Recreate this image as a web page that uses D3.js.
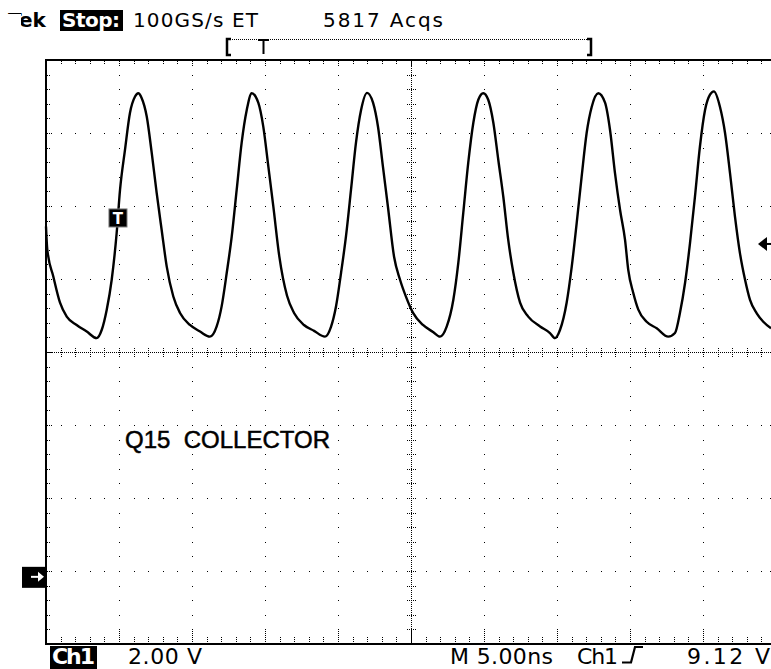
<!DOCTYPE html>
<html>
<head>
<meta charset="utf-8">
<script src="https://cdn.jsdelivr.net/npm/d3@7/dist/d3.min.js"></script>
<style>
    body { margin: 0; background: #fff; }
    svg { display: block; }
    text { font-family: "DejaVu Sans", sans-serif; fill: #000; }
</style>
</head>
<body>
<div id="scope"></div>
<script>
// Ch1 trace: time from the left graticule edge (ns) and volts
var traceNs = [0, 0.09, 0.50, 0.96, 1.42, 2.10, 2.79, 3.47, 3.82, 4.16, 4.50, 4.84, 5.07, 5.41, 5.75, 6.10,
    6.32, 6.55, 6.90, 7.24, 7.58, 7.92, 8.27, 8.72, 9.18, 9.86, 10.55, 11.23, 11.69, 12.03, 12.38, 12.72,
    13.06, 13.40, 13.75, 14.09, 14.54, 14.88, 15.23, 15.57, 15.98, 16.51, 16.99, 17.67, 18.36, 19.11, 19.52,
    19.86, 20.21, 20.55, 20.89, 21.23, 21.58, 21.99, 22.40, 22.74, 23.08, 23.42, 23.84, 24.25, 24.66, 25.14,
    25.82, 26.51, 26.99, 27.45, 27.90, 28.24, 28.58, 28.92, 29.27, 29.61, 29.95, 30.29, 30.64, 30.98, 31.32,
    31.66, 32.01, 32.47, 33.03, 33.84, 34.52, 34.86, 35.21, 35.66, 36.01, 36.35, 36.69, 37.03, 37.38, 37.83,
    38.29, 38.63, 38.97, 39.32, 39.66, 39.88, 40.23, 40.57, 41.14, 41.83, 42.62, 43.08, 43.42, 43.77, 44.11,
    44.45, 44.79, 45.14, 45.48, 45.75, 46.16, 46.51, 46.85, 47.19, 47.53, 47.88, 48.22, 48.68, 49.13, 49.66];
var traceV = [9.60, 8.96, 8.23, 7.51, 7.13, 6.90, 6.72, 6.54, 6.77, 7.32, 8.14, 9.42, 10.60, 11.70, 12.71, 13.16,
    13.25, 13.12, 12.61, 11.62, 10.52, 9.51, 8.50, 7.68, 7.23, 6.90, 6.72, 6.58, 6.86, 7.41, 8.33, 9.32,
    10.60, 11.89, 12.79, 13.25, 12.99, 12.34, 11.24, 10.15, 8.78, 7.70, 7.23, 6.90, 6.74, 6.58, 6.85,
    7.40, 8.33, 9.34, 10.60, 11.89, 12.79, 13.26, 12.99, 12.33, 11.23, 10.14, 8.77, 8.14, 7.67, 7.23,
    6.90, 6.71, 6.58, 6.86, 7.59, 8.60, 9.97, 11.34, 12.44, 13.07, 13.25, 13.07, 12.44, 11.42, 10.42,
    9.23, 8.33, 7.51, 7.13, 6.86, 6.68, 6.54, 6.77, 7.51, 8.50, 9.70, 10.97, 12.16, 12.88, 13.25,
    12.99, 12.25, 11.07, 10.05, 9.23, 8.41, 7.77, 7.32, 6.99, 6.81, 6.58, 6.68, 7.23, 8.05, 9.14,
    10.42, 11.79, 12.79, 13.21, 13.30, 12.88, 12.16, 11.06, 9.87, 8.87, 8.14, 7.59, 7.22, 6.99, 6.81];

var voltsPerDiv = 2.0;
var nsPerDiv = 5.0;
var bottomVolts = -1.84;      // Ch1 ground sits just under one division above the bottom
var triggerVolts = 9.12;
var triggerNs = 4.93;
var sampleRate = "100GS/s ET";
var acqCount = 5817;
var channelName = "Ch1";
var traceLabel = "Q15  COLLECTOR";

var Scope = function(opts) {
    this.element = opts.element;
    this.width = 771;
    this.height = 669;

    this.draw();
};

Scope.prototype.draw = function() {
    this.element.innerHTML = '';
    this.svg = d3.select(this.element).append("svg")
        .attr("width", this.width)
        .attr("height", this.height);

    this.setScales();
    this.drawGraticule();
    this.drawTrace();
    this.drawMarkers();
    this.drawReadouts();
};

Scope.prototype.setScales = function() {
    // 10 x 8 divisions, the right edge falls just off the screenshot
    this.gx = d3.scaleLinear().domain([0, 10]).range([46, 776]);
    this.gy = d3.scaleLinear().domain([0, 8]).range([644, 60]);

    this.x = d3.scaleLinear()
        .domain([0, 10 * nsPerDiv])
        .range(this.gx.range());
    this.y = d3.scaleLinear()
        .domain([bottomVolts, bottomVolts + 8 * voltsPerDiv])
        .range(this.gy.range());
};

Scope.prototype.drawGraticule = function() {
    var gx = this.gx, gy = this.gy;
    var g = this.svg.append("g").attr("class", "graticule");
    var px = function(v) { return Math.round(v) + 0.5; };

    var minorX = d3.range(1, 50).map(function(i) { return i / 5; });
    var minorY = d3.range(1, 40).map(function(i) { return i / 5; });

    // single dots along the major lines
    var dots = [];
    [1, 2, 3, 4, 6, 7, 8, 9].forEach(function(i) {
        minorY.forEach(function(j) { dots.push([gx(i), gy(j)]); });
    });
    [1, 2, 3, 5, 6, 7].forEach(function(j) {
        minorX.forEach(function(i) { dots.push([gx(i), gy(j)]); });
    });
    g.selectAll("rect.dot")
        .data(dots)
        .enter().append("rect")
        .attr("class", "dot")
        .attr("x", function(d) { return Math.round(d[0]); })
        .attr("y", function(d) { return Math.round(d[1]); })
        .attr("width", 1)
        .attr("height", 1)
        .attr("fill", "#000");

    // centre cross, finely dotted with ticks every minor division
    g.append("line")
        .attr("x1", px(gx(5))).attr("x2", px(gx(5)))
        .attr("y1", gy(8)).attr("y2", gy(0))
        .attr("stroke", "#000").attr("stroke-dasharray", "1,1");
    g.append("line")
        .attr("x1", gx(0)).attr("x2", gx(10))
        .attr("y1", px(gy(4))).attr("y2", px(gy(4)))
        .attr("stroke", "#000").attr("stroke-dasharray", "1,1");

    g.selectAll("line.xtick")
        .data(minorX)
        .enter().append("line")
        .attr("class", "xtick")
        .attr("x1", function(d) { return px(gx(d)); })
        .attr("x2", function(d) { return px(gx(d)); })
        .attr("y1", gy(4) - 4).attr("y2", gy(4) + 5)
        .attr("stroke", "#000").attr("stroke-dasharray", "1,1");
    g.selectAll("line.ytick")
        .data(minorY)
        .enter().append("line")
        .attr("class", "ytick")
        .attr("y1", function(d) { return px(gy(d)); })
        .attr("y2", function(d) { return px(gy(d)); })
        .attr("x1", gx(5) - 4).attr("x2", gx(5) + 5)
        .attr("stroke", "#000").attr("stroke-dasharray", "1,1");

    // ticks pointing in from the frame
    var tickLen = function(d) { return Math.abs(d - Math.round(d)) < 0.01 ? 6 : 3; };
    g.selectAll("line.tb")
        .data(minorX)
        .enter().append("g")
        .each(function(d) {
            var s = d3.select(this);
            s.append("line")
                .attr("x1", px(gx(d))).attr("x2", px(gx(d)))
                .attr("y1", gy(8) + 1).attr("y2", gy(8) + 1 + tickLen(d))
                .attr("stroke", "#000").attr("stroke-dasharray", "1,1");
            s.append("line")
                .attr("x1", px(gx(d))).attr("x2", px(gx(d)))
                .attr("y1", gy(0) - 2).attr("y2", gy(0) - 2 - tickLen(d) * 2)
                .attr("stroke", "#000").attr("stroke-dasharray", "1,1");
        });
    g.selectAll("line.lr")
        .data(minorY)
        .enter().append("g")
        .each(function(d) {
            var s = d3.select(this);
            s.append("line")
                .attr("y1", px(gy(d))).attr("y2", px(gy(d)))
                .attr("x1", gx(0) + 1).attr("x2", gx(0) + 1 + tickLen(d))
                .attr("stroke", "#000").attr("stroke-dasharray", "1,1");
            s.append("line")
                .attr("y1", px(gy(d))).attr("y2", px(gy(d)))
                .attr("x1", gx(10) - 1).attr("x2", gx(10) - 1 - tickLen(d))
                .attr("stroke", "#000").attr("stroke-dasharray", "1,1");
        });

    g.append("rect")
        .attr("x", gx(0)).attr("y", gy(8))
        .attr("width", gx(10) - gx(0))
        .attr("height", gy(0) - gy(8))
        .attr("fill", "none")
        .attr("stroke", "#000")
        .attr("stroke-width", 2);
};

Scope.prototype.drawTrace = function() {
    var _this = this;
    var line = d3.line()
        .x(function(d) { return _this.x(d[0]); })
        .y(function(d) { return _this.y(d[1]); })
        .curve(d3.curveMonotoneX);

    this.svg.append("path")
        .datum(d3.zip(traceNs, traceV))
        .attr("class", "trace")
        .attr("d", line)
        .attr("fill", "none")
        .attr("stroke", "#000")
        .attr("stroke-width", 2.4)
        .attr("stroke-linejoin", "round");
};

Scope.prototype.drawMarkers = function() {
    var x = this.x, y = this.y;

    // ground reference on the left
    var gy0 = y(0);
    this.svg.append("rect")
        .attr("x", 22).attr("y", gy0 - 10)
        .attr("width", 24).attr("height", 21)
        .attr("fill", "#000");
    this.svg.append("line")
        .attr("x1", 31).attr("x2", 40)
        .attr("y1", gy0).attr("y2", gy0)
        .attr("stroke", "#fff").attr("stroke-width", 2);
    this.svg.append("path")
        .attr("d", "M44," + gy0 + "L38," + (gy0 - 5) + "L38," + (gy0 + 5) + "Z")
        .attr("fill", "#fff");

    // trigger level on the right
    var ty = y(triggerVolts);
    this.svg.append("path")
        .attr("d", "M758," + ty + "L767," + (ty - 7) + "L767," + (ty + 7) + "Z")
        .attr("fill", "#000");
    this.svg.append("line")
        .attr("x1", 766).attr("x2", 771)
        .attr("y1", ty).attr("y2", ty)
        .attr("stroke", "#000").attr("stroke-width", 2);

    // trigger point on the waveform
    var tx = x(triggerNs);
    this.svg.append("rect")
        .attr("x", tx - 9).attr("y", ty - 35)
        .attr("width", 18).attr("height", 18)
        .attr("fill", "#000")
        .attr("stroke", "#777");
    this.svg.append("text")
        .attr("x", tx).attr("y", ty - 20)
        .attr("text-anchor", "middle")
        .attr("font-size", 15)
        .attr("font-weight", "bold")
        .style("fill", "#fff")
        .text("T");

    // record view bracket
    var bar = this.svg.append("g").attr("class", "record");
    bar.append("line")
        .attr("x1", 230).attr("x2", 589)
        .attr("y1", 39.5).attr("y2", 39.5)
        .attr("stroke", "#000").attr("stroke-dasharray", "1,1");
    bar.append("path")
        .attr("d", "M231,39H227V55H231M587,39H591V55H587")
        .attr("fill", "none").attr("stroke", "#000").attr("stroke-width", 2.5);
    bar.append("path")
        .attr("d", "M258,40H269M263.5,40V54")
        .attr("fill", "none").attr("stroke", "#000").attr("stroke-width", 2);
};

Scope.prototype.drawReadouts = function() {
    var svg = this.svg;
    var label = function(x, y, str, size, len, bold, color) {
        var t = svg.append("text")
            .attr("x", x).attr("y", y)
            .attr("font-size", size)
            .text(str);
        if (len) t.attr("textLength", len).attr("lengthAdjust", "spacing");
        if (bold) t.attr("font-weight", "bold");
        if (color) t.style("fill", color);
        return t;
    };
    var f2 = d3.format(".2f");

    // header line
    label(8, 27, "Tek", 20, null, true);
    svg.append("rect").attr("x", 7).attr("y", 14).attr("width", 14).attr("height", 16).attr("fill", "#fff");
    svg.append("rect").attr("x", 60).attr("y", 10).attr("width", 63).attr("height", 21).attr("fill", "#000");
    label(62, 27, "Stop:", 20, 58, true, "#fff");
    label(133, 27, sampleRate, 20, 125);
    label(323, 27, acqCount + " Acqs", 20, 120);

    // footer line
    svg.append("rect").attr("x", 50).attr("y", 646).attr("width", 47).attr("height", 23).attr("fill", "#000");
    label(52, 664, channelName, 22, 43, true, "#fff");
    label(128, 664, f2(voltsPerDiv) + " V", 22, 74);
    label(450, 664, "M " + f2(nsPerDiv) + "ns", 22, 103);
    label(577, 664, channelName, 22, 41);
    svg.append("path")
        .attr("d", "M622,662.5H631L635,647H643")
        .attr("fill", "none").attr("stroke", "#000").attr("stroke-width", 2.2);
    label(687, 664, f2(triggerVolts) + " V", 22, 83);

    label(125, 448, traceLabel, 24)
        .style("font-family", "'Liberation Sans', Arial, sans-serif")
        .style("white-space", "pre")
        .style("stroke", "#000")
        .style("stroke-width", 0.5);
};

new Scope({ element: document.getElementById("scope") });
</script>
</body>
</html>
